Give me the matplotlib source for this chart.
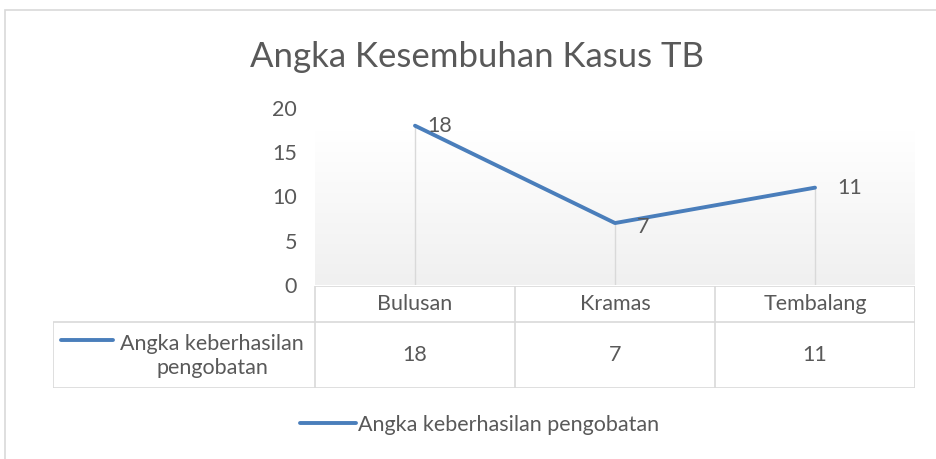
import numpy as np
import matplotlib.pyplot as plt
from matplotlib.lines import Line2D
from matplotlib.patches import Rectangle
from matplotlib.colors import LinearSegmentedColormap

# DATA
categories = ["Bulusan", "Kramas", "Tembalang"]
values = [18, 7, 11]
series_name = "Angka keberhasilan pengobatan"
title = "Angka Kesembuhan Kasus TB"
y_ticks = [0, 5, 10, 15, 20]

W, H = 937, 459
BLUE = "#4a7ebb"
TXT = "#595959"
GRID = "#d9d9d9"
FS = 15.5
plt.rcParams['font.family'] = ['Lato', 'DejaVu Sans']

def box(x0, y0, x1, y1):
    # pixel box (top-left origin) -> figure fraction
    return [x0 / W, 1 - y1 / H, (x1 - x0) / W, (y1 - y0) / H]

fig = plt.figure(figsize=(W / 100, H / 100), dpi=100)
fig.patch.set_facecolor("white")

# outer chart frame
fig.add_artist(Rectangle((5 / W, -0.1), 1.2, 1 - 10 / H + 0.1, transform=fig.transFigure,
                         fill=False, edgecolor=GRID, lw=1.2))

fig.text(477 / W, 1 - 57 / H, title, ha="center", va="center", fontsize=25, color=TXT)

# PLOT AREA
ax = fig.add_axes(box(315, 108, 915, 285))
ax.set_xlim(-0.5, len(categories) - 0.5)
ax.set_ylim(0, 20)
grad = np.linspace(1.0, 0.0, 256).reshape(-1, 1)
ax.imshow(grad, cmap=LinearSegmentedColormap.from_list("g", ["#f0f0f0", "#ffffff"]),
          extent=[0, 1, 0, 0.87], transform=ax.transAxes, aspect="auto", zorder=0)
x = np.arange(len(categories))
ax.vlines(x, 0, values, color=GRID, lw=1, zorder=1)
ax.plot(x, values, color=BLUE, lw=2.8, solid_capstyle="round", solid_joinstyle="round", zorder=2)
offs = {0: (9, 0), 1: (16, -3), 2: (16, 0)}
for i, v in enumerate(values):
    ax.annotate(str(v), (x[i], v), xytext=offs[i], textcoords="offset points",
                ha="left", va="center", fontsize=FS, color=TXT)
ax.set_yticks(y_ticks)
ax.tick_params(axis="y", length=0, pad=13, labelsize=FS, labelcolor=TXT)
ax.set_xticks([])
for s in ax.spines.values():
    s.set_visible(False)
ax.set_facecolor("none")

# DATA TABLE
tb = fig.add_axes(box(53, 286, 915, 388))
tb.set_xlim(53, 915)
tb.set_ylim(388, 286)
tb.axis("off")
col_edges = [315 + 200 * i for i in range(len(categories) + 1)]
tb.hlines(286, 315, 915, color=GRID, lw=1.2)
tb.hlines([322, 388], 53, 915, color=GRID, lw=1.2)
tb.vlines(col_edges, 286, 388, color=GRID, lw=1.2)
tb.vlines(53, 322, 388, color=GRID, lw=1.2)
for i, (c, v) in enumerate(zip(categories, values)):
    cx = (col_edges[i] + col_edges[i + 1]) / 2
    tb.text(cx, 304, c, ha="center", va="center", fontsize=FS, color=TXT)
    tb.text(cx, 355, str(v), ha="center", va="center", fontsize=FS, color=TXT)
tb.plot([61, 113], [340, 340], color=BLUE, lw=2.8, solid_capstyle="round")
tb.text(212, 356, "Angka keberhasilan\npengobatan", ha="center", va="center",
        fontsize=FS, color=TXT, linespacing=1.25)

# LEGEND
fig.legend([Line2D([], [], color=BLUE, lw=2.8, solid_capstyle="round")], [series_name],
           loc="center", bbox_to_anchor=(480 / W, 1 - 425 / H), frameon=False,
           fontsize=FS, labelcolor=TXT, handlelength=2.6, handletextpad=0.1)

fig.savefig("out.png", dpi=100)
